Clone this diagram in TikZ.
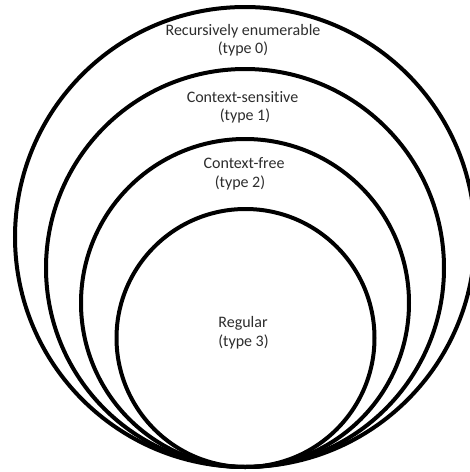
\documentclass[tikz,border=0pt]{standalone}
\usepackage{fontspec}
\setmainfont[Ligatures={NoCommon}]{Carlito}
\definecolor{txt}{RGB}{45,45,45}
\begin{document}
\begin{tikzpicture}[x=1pt,y=-1pt,
  ring/.style={draw=black,line width=4pt},
  lbl/.style={inner sep=0pt,text=txt,font=\fontsize{16}{19}\selectfont}]
\useasboundingbox (0,0) rectangle (470,472);
\fill[white] (0,0) rectangle (470,472);
\begin{scope}
\clip (0,0) rectangle (470,472);
\draw[ring] (245,237) circle[radius=230];
\draw[ring] (245,268) circle[radius=199];
\draw[ring] (245,303) circle[radius=164];
\draw[ring] (245.5,338) circle[radius=129];
\end{scope}
\node[lbl] (re) at (243,31) {Recursively enumerable};
\node[lbl] (t0) at (243,49) {(type 0)};
\node[lbl] (cs) at (242.5,97) {Context-sensit\kern0pt ive};
\node[lbl] (t1) at (245,116) {(type 1)};
\node[lbl] (cf) at (244,163) {Context-free};
\node[lbl] (t2) at (240,183) {(type 2)};
\node[lbl] (rg) at (243,323) {Regular};
\node[lbl] (t3) at (243.5,342) {(type 3)};
\end{tikzpicture}
\end{document}
